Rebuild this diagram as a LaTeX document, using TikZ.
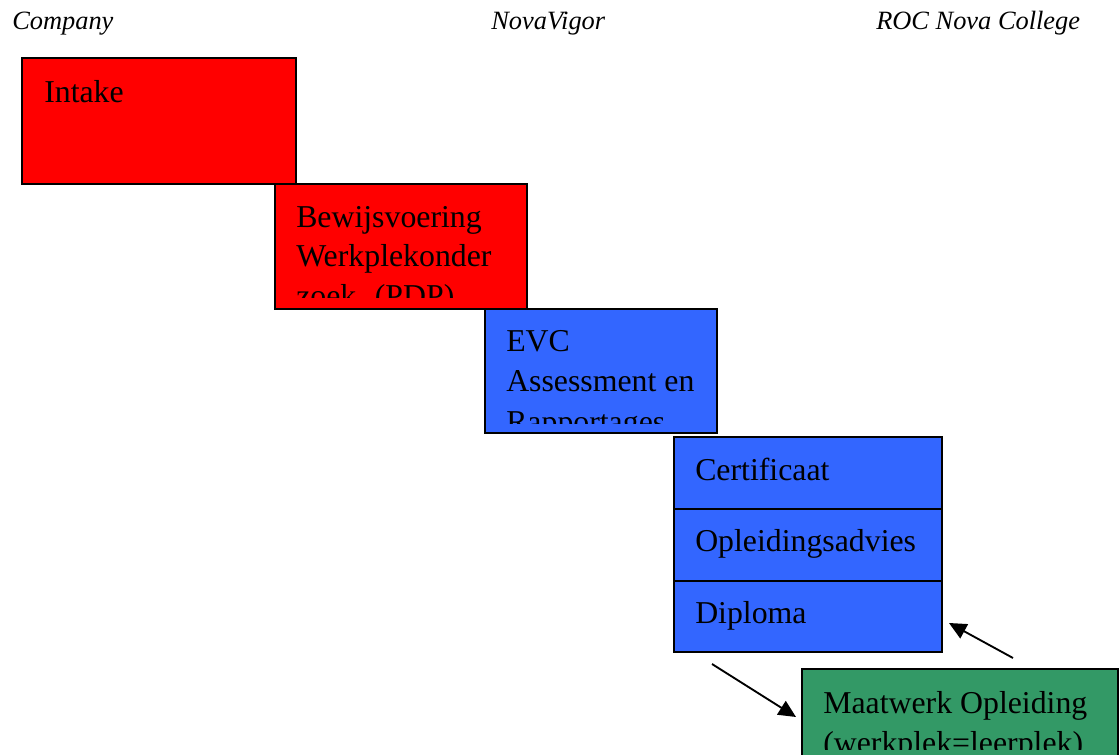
\documentclass[tikz,border=0pt]{standalone}
\usepackage{fontspec}
\setmainfont{Liberation Serif}
\usetikzlibrary{arrows.meta}
\definecolor{boxred}{HTML}{FF0000}
\definecolor{boxblue}{HTML}{3366FF}
\definecolor{boxgreen}{HTML}{339966}
\tikzset{
  box/.style={draw=black, line width=1.6pt, inner sep=0pt, outer sep=0pt},
  txt/.style={anchor=base west, inner sep=0pt, font=\fontsize{23.85}{28}\selectfont},
  head/.style={anchor=base west, inner sep=0pt, font=\fontsize{19.8}{24}\selectfont\itshape},
  arr/.style={line width=1.4pt, -{Triangle[length=13pt,width=12pt]}}
}
\begin{document}
\begin{tikzpicture}[x=0.75pt,y=-0.75pt]
\useasboundingbox (0,0) rectangle (1120,755);
% headers
\node[head] (h1) at (12,30) {Company};
\node[head] (h2) at (491,30) {NovaVigor};
\node[head] (h3) at (876,30) {ROC Nova College};
% boxes
\path[box, fill=boxred] (22,58) rectangle (296,184);
\node[txt] (intake) at (44,103) {Intake};
\path[box, fill=boxred] (275,184) rectangle (527,309);
\begin{scope}
  \clip (275,184) rectangle (527,298);
  \node[txt] (bew1) at (296,228) {Bewijsvoering};
  \node[txt] (bew2) at (296,267) {Werkplekonder};
  \node[txt] (bew3) at (296,307) {zoek. (PDP)};
\end{scope}
\path[box, fill=boxblue] (485,309) rectangle (717,433);
\begin{scope}
  \clip (485,309) rectangle (717,423);
  \node[txt] (evc1) at (506,352) {EVC};
  \node[txt] (evc2) at (506,392) {Assessment en};
  \node[txt] (evc3) at (506,432) {Rapportages};
\end{scope}
\path[box, fill=boxblue] (674,437) rectangle (942,509);
\path[box, fill=boxblue] (674,509) rectangle (942,581);
\path[box, fill=boxblue] (674,581) rectangle (942,652);
\node[txt] (cert) at (695,480) {Certificaat};
\node[txt] (advies) at (695,551) {Opleidingsadvies};
\node[txt] (diploma) at (695,623) {Diploma};
\path[box, fill=boxgreen] (802,669) rectangle (1118,770);
\begin{scope}
  \clip (802,669) rectangle (1118,749);
  \node[txt] (maat1) at (823,713) {Maatwerk Opleiding};
  \node[txt] (maat2) at (823,753) {(werkplek=leerplek)};
\end{scope}
% arrows
\coordinate (a1s) at (712,664);
\coordinate (a1e) at (796,717);
\coordinate (a2s) at (1013,658);
\coordinate (a2e) at (949,623);
\draw[arr] (a1s) -- (a1e);
\draw[arr] (a2s) -- (a2e);
\end{tikzpicture}
\end{document}
